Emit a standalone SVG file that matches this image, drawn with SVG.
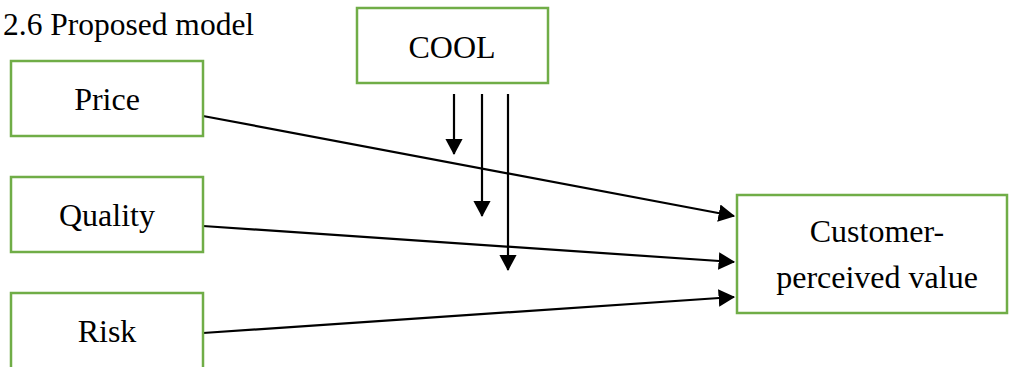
<svg xmlns="http://www.w3.org/2000/svg" width="1009" height="367" viewBox="0 0 1009 367">
<style>
.box{fill:#fff;stroke:#70AD47;stroke-width:2.5}
.t{font-family:"Liberation Serif","Times New Roman",serif;font-size:32px;fill:#000;text-anchor:middle}
.c{stroke:#000;stroke-width:2.2;fill:none;marker-end:url(#ah)}
</style>
<defs>
<marker id="ah" markerWidth="8" markerHeight="8" refX="7" refY="4" orient="auto" markerUnits="strokeWidth"><path d="M0,0 L7.5,4 L0,8 Z" fill="#000"/></marker>
</defs>
<rect width="1009" height="367" fill="#fff"/>
<text x="3" y="35" style="font-family:'Liberation Serif','Times New Roman',serif;font-size:31.5px;fill:#000">2.6 Proposed model</text>
<g id="connectors">
<line class="c" x1="203" y1="116" x2="734" y2="216"/>
<line class="c" x1="203" y1="226" x2="734" y2="262"/>
<line class="c" x1="203" y1="333" x2="734" y2="297"/>
<line class="c" x1="454" y1="94" x2="454" y2="154"/>
<line class="c" x1="482" y1="94" x2="482" y2="216"/>
<line class="c" x1="508" y1="94" x2="508" y2="270"/>
</g>
<g id="price"><rect class="box" x="11" y="61" width="192" height="75"/><text class="t" x="107" y="110">Price</text></g>
<g id="quality"><rect class="box" x="11" y="177" width="192" height="75"/><text class="t" x="107" y="226">Quality</text></g>
<g id="risk"><rect class="box" x="11" y="293" width="192" height="80"/><text class="t" x="107" y="342">Risk</text></g>
<g id="cool"><rect class="box" x="357" y="8" width="191" height="75"/><text class="t" x="452" y="58">COOL</text></g>
<g id="cpv"><rect class="box" x="737" y="195" width="270" height="118"/><text class="t" x="877" y="242">Customer-</text><text class="t" x="877" y="288">perceived value</text></g>
</svg>
